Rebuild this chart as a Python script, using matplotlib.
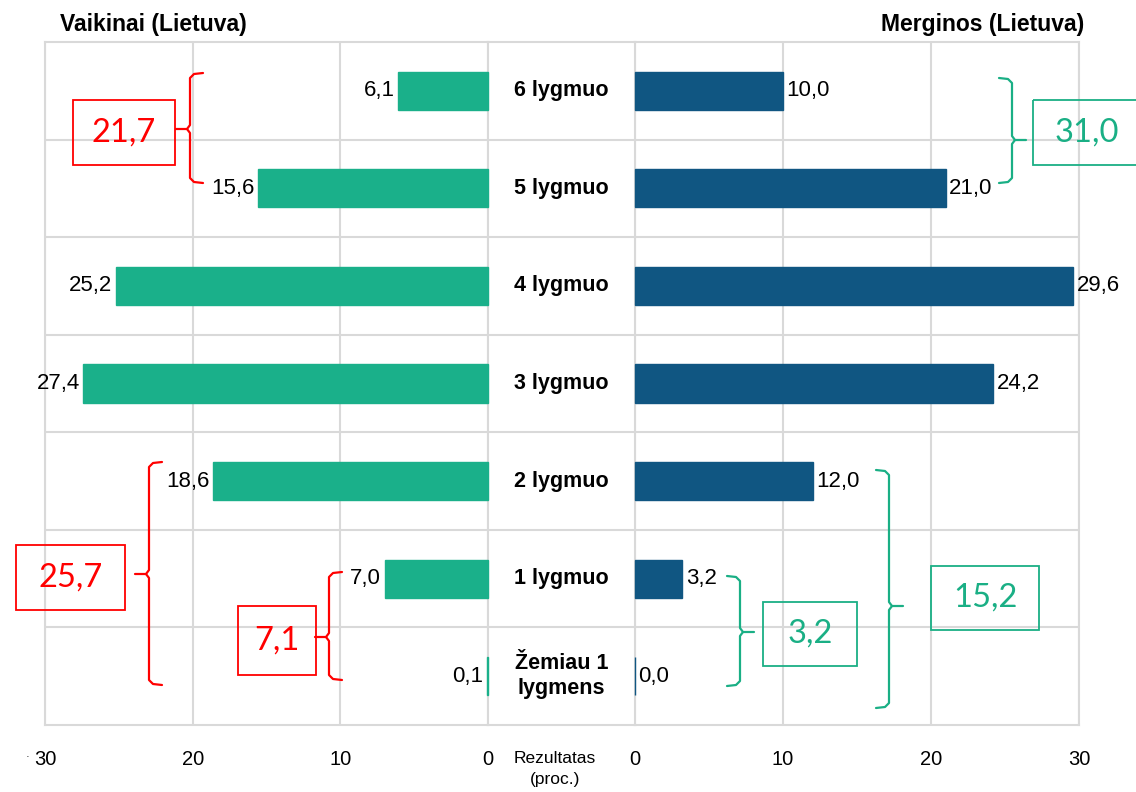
import matplotlib
matplotlib.use("Agg")
import matplotlib.pyplot as plt
from matplotlib.transforms import Affine2D
from matplotlib.patches import Rectangle
from matplotlib.lines import Line2D

# ---------------- data ----------------
categories = ["Žemiau 1\nlygmens", "1 lygmuo", "2 lygmuo", "3 lygmuo",
              "4 lygmuo", "5 lygmuo", "6 lygmuo"]
boys = [0.1, 7.0, 18.6, 27.4, 25.2, 15.6, 6.1]      # Vaikinai (Lietuva)
girls = [0.0, 3.2, 12.0, 24.2, 29.6, 21.0, 10.0]    # Merginos (Lietuva)
x_ticks = [0, 10, 20, 30]
title_left = "Vaikinai (Lietuva)"
title_right = "Merginos (Lietuva)"
axis_label = "Rezultatas\n(proc.)"
# groups summed in the bracket annotations (category indices)
groups_boys = [[5, 6], [0, 1, 2], [0, 1]]
groups_girls = [[5, 6], [0, 1, 2], [0, 1]]

# ---------------- style ----------------
GREEN = "#1AB08A"
BLUE = "#105682"
RED = "#FF0000"
ANN_GREEN = "#1AAF85"
GRID = "#D9D9D9"
plt.rcParams["font.family"] = ["Liberation Sans", "DejaVu Sans"]

W, H = 1136, 792
fig = plt.figure(figsize=(W / 100, H / 100), dpi=100)
px = Affine2D().scale(1 / W, -1 / H).translate(0, 1) + fig.transFigure


def rect(l, t, r, b):
    return [l / W, 1 - b / H, (r - l) / W, (b - t) / H]


TOP, BOT = 42, 725
axM = fig.add_axes(rect(488, TOP, 635, BOT))
axL = fig.add_axes(rect(45, TOP, 488, BOT))
axR = fig.add_axes(rect(635, TOP, 1079, BOT))

y = list(range(len(categories)))
bh = 0.39
for ax in (axL, axM, axR):
    ax.set_ylim(-0.5, len(categories) - 0.5)
    ax.set_yticks([])
    ax.set_yticks([i - 0.5 for i in range(1, len(categories))], minor=True)
    ax.tick_params(axis="y", which="both", length=0, labelleft=False)
    ax.grid(axis="y", which="minor", color=GRID, lw=1.5)
    for s in ax.spines.values():
        s.set_color(GRID)
        s.set_linewidth(1.5)
    ax.set_axisbelow(True)
axM.spines["left"].set_visible(False)
axM.spines["right"].set_visible(False)
axM.patch.set_alpha(0)
axL.patch.set_alpha(0)
axR.patch.set_alpha(0)

axL.set_xlim(30, 0)
axR.set_xlim(0, 30)
for ax in (axL, axR):
    ax.set_xticks(x_ticks)
    ax.set_xticklabels([str(t) for t in x_ticks], fontsize=14.5)
    ax.tick_params(axis="x", length=0, pad=18)
    ax.grid(axis="x", which="major", color=GRID, lw=1.5)
axM.set_xticks([])
axM.set_xlim(0, 1)

axL.barh(y, boys, height=bh, color=GREEN, edgecolor=GREEN, lw=1.0, zorder=3,
         clip_on=False)
axR.barh(y, girls, height=bh, color=BLUE, edgecolor=BLUE, lw=1.0, zorder=3,
         clip_on=False)

for yi, v in zip(y, boys):
    axL.annotate(f"{v:.1f}".replace(".", ","), (v, yi), xytext=(-2.5, 0),
                 textcoords="offset points", ha="right", va="center", fontsize=16)
for yi, v in zip(y, girls):
    axR.annotate(f"{v:.1f}".replace(".", ","), (v, yi), xytext=(2.5, 0),
                 textcoords="offset points", ha="left", va="center", fontsize=16)

for yi, c in zip(y, categories):
    axM.text(0.5, yi, c, ha="center", va="center", fontsize=15.5, fontweight="bold",
             linespacing=1.25)

fig.text(555 / W, 1 - 769 / H, axis_label, ha="center", va="center",
         fontsize=12.5, linespacing=1.45)

fig.text(60 / W, 1 - 25 / H, title_left, ha="left", va="center", fontsize=16.5,
         fontweight="bold")
fig.text(1084 / W, 1 - 25 / H, title_right, ha="right", va="center", fontsize=16.5,
         fontweight="bold")
fig.text(28 / W, 1 - 757 / H, "·", ha="center", va="center", fontsize=8)


def bracket(xv, top, bottom, nib_y, d, color):
    # d=+1: hooks point right, nib points left; d=-1: mirrored
    h, n = 13 * d, 14 * d
    pts1 = [(xv + h, top), (xv + 4 * d, top + 1), (xv, top + 5), (xv, nib_y - 4),
            (xv - 3 * d, nib_y), (xv - n, nib_y)]
    pts2 = [(xv - 3 * d, nib_y), (xv, nib_y + 4), (xv, bottom - 5),
            (xv + 4 * d, bottom - 1), (xv + h, bottom)]
    for pts in (pts1, pts2):
        xs, ys = zip(*pts)
        fig.add_artist(Line2D(xs, ys, transform=px, color=color, lw=1.6,
                              solid_joinstyle="round", solid_capstyle="round"))


def box(l, t, r, b, value, color):
    fig.add_artist(Rectangle((l, t), r - l, b - t, transform=px, fill=False,
                             edgecolor=color, lw=1.3))
    fig.text((l + r) / 2 / W, 1 - (t + b) / 2 / H, f"{value:.1f}".replace(".", ","),
             ha="center", va="center", fontsize=23.5, color=color, family="Lato")


def total(vals, idx):
    return round(sum(vals[i] for i in idx), 1)


# left (boys) brackets and boxes
bracket(190, 73, 183, 129, 1, RED)
box(73, 100, 175, 165, total(boys, groups_boys[0]), RED)
bracket(149, 462, 685, 574, 1, RED)
box(16, 545, 125, 610, total(boys, groups_boys[1]), RED)
bracket(329, 572, 680, 637, 1, RED)
box(238, 606, 316, 675, total(boys, groups_boys[2]), RED)

# right (girls) brackets and boxes
bracket(1012, 78, 183, 140, -1, ANN_GREEN)
box(1033, 100, 1140, 165, total(girls, groups_girls[0]), ANN_GREEN)
bracket(889, 470, 708, 606, -1, ANN_GREEN)
box(931, 566, 1039, 630, total(girls, groups_girls[1]), ANN_GREEN)
bracket(740, 576, 686, 632, -1, ANN_GREEN)
box(763, 602, 857, 666, total(girls, groups_girls[2]), ANN_GREEN)

fig.savefig("out.png", dpi=100)
